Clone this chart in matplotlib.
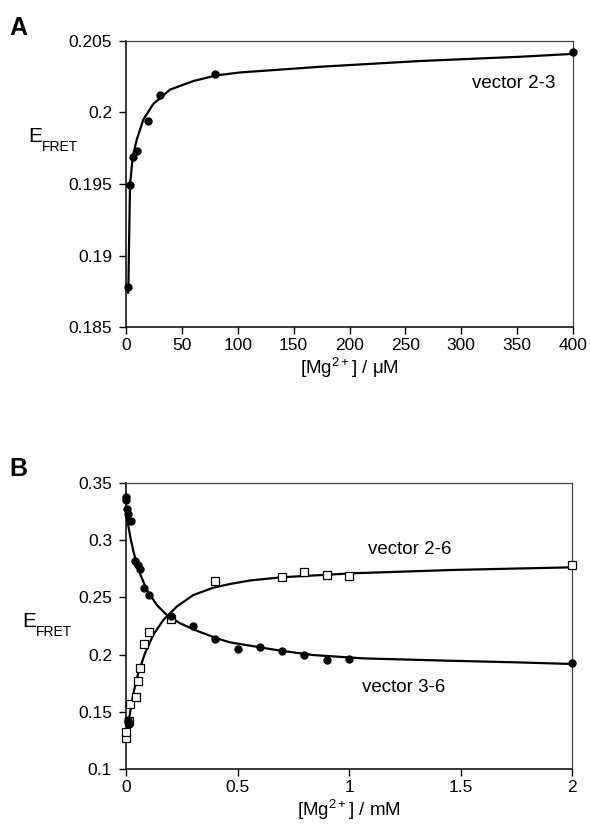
import matplotlib
matplotlib.use("Agg")
import matplotlib.pyplot as plt

plt.rcParams["font.family"] = ["Liberation Sans", "DejaVu Sans"]
plt.rcParams["mathtext.fontset"] = "custom"
plt.rcParams["mathtext.rm"] = "Liberation Sans"
plt.rcParams["mathtext.it"] = "Liberation Sans:italic"

# panel A: vector 2-3, [Mg2+] in uM
a_x = [2, 3.6, 6, 10, 20, 30, 80, 400]
a_y = [0.1878, 0.1949, 0.1969, 0.1973, 0.1994, 0.2012, 0.2027, 0.2042]
# fitted curve
a_fit_x = [1.9, 2.1, 3.6, 6.0, 9.6, 15.5, 24.4, 39.4, 60.2, 81.2, 102, 174, 263, 353, 400]
a_fit_y = [0.1874, 0.1878, 0.1949, 0.1969, 0.1981, 0.1995, 0.2006, 0.2016, 0.2022, 0.2026, 0.2028,
           0.2032, 0.2036, 0.2039, 0.2041]

# panel B, [Mg2+] in mM
b36_x = [0.001, 0.002, 0.005, 0.008, 0.022, 0.04, 0.052, 0.063, 0.082, 0.104,
         0.2, 0.3, 0.4, 0.5, 0.6, 0.7, 0.8, 0.9, 1.0, 2.0]
b36_y = [0.338, 0.335, 0.327, 0.323, 0.317, 0.282, 0.278, 0.275, 0.258, 0.252,
         0.234, 0.225, 0.214, 0.205, 0.207, 0.203, 0.200, 0.195, 0.196, 0.193]
b_low_x = [0.008, 0.01, 0.012]
b_low_y = [0.143, 0.141, 0.139]

b26_x = [0.001, 0.002, 0.012, 0.02, 0.044, 0.054, 0.063, 0.081, 0.103,
         0.2, 0.4, 0.7, 0.8, 0.9, 1.0, 2.0]
b26_y = [0.127, 0.132, 0.142, 0.157, 0.163, 0.177, 0.188, 0.209, 0.220,
         0.231, 0.264, 0.268, 0.272, 0.270, 0.269, 0.278]

fit36_x = [0.003, 0.01, 0.02, 0.033, 0.055, 0.093, 0.138, 0.183, 0.242, 0.317, 0.407,
           0.466, 0.69, 0.84, 1.064, 1.438, 1.737, 2.0]
fit36_y = [0.322, 0.313, 0.302, 0.2905, 0.2745, 0.2565, 0.2434, 0.2346, 0.2274, 0.2209, 0.2142,
           0.2107, 0.2035, 0.1996, 0.1967, 0.1947, 0.1933, 0.1918]
fit26_x = [0.004, 0.018, 0.033, 0.055, 0.085, 0.122, 0.167, 0.227, 0.302, 0.392,
           0.466, 0.556, 0.698, 1.019, 1.468, 2.0]
fit26_y = [0.132, 0.1487, 0.1662, 0.1837, 0.2011, 0.2171, 0.2302, 0.2419, 0.2521, 0.2585,
           0.2617, 0.2648, 0.2676, 0.2711, 0.274, 0.2763]

W, H = 590, 834
fig = plt.figure(figsize=(W / 100, H / 100), dpi=100)


def frame(ax):
    for s in ["left", "bottom"]:
        ax.spines[s].set_linewidth(1.1)
        ax.spines[s].set_color("black")
    for s in ["top", "right"]:
        ax.spines[s].set_linewidth(0.9)
        ax.spines[s].set_color("#444444")
    ax.tick_params(direction="out", length=5, width=1, labelsize=12.5, pad=3,
                   top=False, right=False)
    ax.tick_params(axis="y", pad=5)


def efret(x, y):
    fig.text(x / W, 1 - y / H, "E", fontsize=15, va="baseline", ha="left")
    fig.text((x + 14) / W, 1 - (y + 9) / H, "FRET", fontsize=10, va="baseline", ha="left")


# ---- panel A
axA = fig.add_axes([126 / W, 1 - 327 / H, 447 / W, 286 / H])
axA.plot(a_fit_x, a_fit_y, color="black", lw=1.6, zorder=2)
axA.plot(a_x, a_y, "o", color="black", ms=5, zorder=3, clip_on=False)
axA.set_xlim(0, 400)
axA.set_ylim(0.185, 0.205)
axA.set_xticks(range(0, 401, 50))
axA.set_yticks([0.185, 0.19, 0.195, 0.2, 0.205])
axA.set_yticklabels(["0.185", "0.19", "0.195", "0.2", "0.205"])
axA.set_xlabel("[Mg$^{2+}$] / μM", fontsize=13.5, labelpad=2)
frame(axA)
fig.text(555 / W, 1 - 84 / H, "vector 2-3", fontsize=13.5, ha="right", va="center")
fig.text(9 / W, 1 - 35 / H, "A", fontsize=18, fontweight="bold", va="baseline")
efret(28, 142)

# ---- panel B
axB = fig.add_axes([126 / W, 1 - 769 / H, 446 / W, 286 / H])
axB.plot(fit36_x, fit36_y, color="black", lw=1.6, zorder=2)
axB.plot(fit26_x, fit26_y, color="black", lw=1.6, zorder=2)
axB.plot(b26_x, b26_y, "s", mfc="white", mec="black", mew=0.9, ms=5.5, zorder=3, clip_on=False)
axB.plot(b36_x, b36_y, "o", color="black", ms=5, zorder=4, clip_on=False)
axB.plot(b_low_x, b_low_y, "o", color="black", ms=5, zorder=4, clip_on=False)
axB.set_xlim(0, 2)
axB.set_ylim(0.1, 0.35)
axB.set_xticks([0, 0.5, 1, 1.5, 2])
axB.set_xticklabels(["0", "0.5", "1", "1.5", "2"])
axB.set_yticks([0.1, 0.15, 0.2, 0.25, 0.3, 0.35])
axB.set_yticklabels(["0.1", "0.15", "0.2", "0.25", "0.3", "0.35"])
axB.set_xlabel("[Mg$^{2+}$] / mM", fontsize=13.5, labelpad=2)
frame(axB)
fig.text(410 / W, 1 - 550 / H, "vector 2-6", fontsize=13.5, ha="center", va="center")
fig.text(404 / W, 1 - 687 / H, "vector 3-6", fontsize=13.5, ha="center", va="center")
fig.text(9 / W, 1 - 476 / H, "B", fontsize=18, fontweight="bold", va="baseline")
efret(22, 627)

fig.savefig("out.png", dpi=100)
